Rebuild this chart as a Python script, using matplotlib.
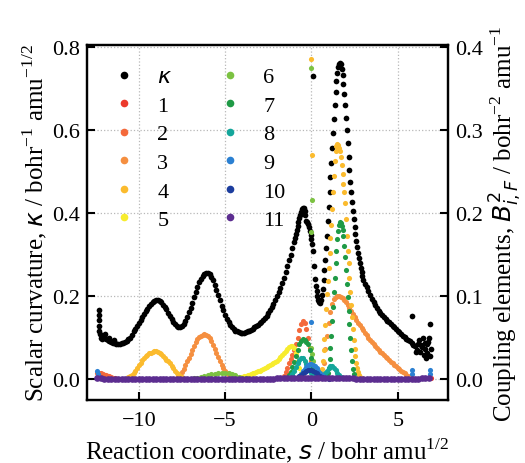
import numpy as np
import matplotlib.pyplot as plt
from matplotlib.lines import Line2D

plt.rcParams['font.family'] = ['Liberation Serif', 'DejaVu Sans']
plt.rcParams['mathtext.fontset'] = 'dejavusans'
plt.rcParams['font.size'] = 16

# Scalar curvature kappa along the reaction coordinate (left axis)
kappa_s_a = np.linspace(-12.2, -1.0, 113)
kappa_a = [
    0.100, 0.104, 0.103, 0.098, 0.095, 0.092, 0.090, 0.088, 0.087, 0.086,
    0.086, 0.086, 0.087, 0.088, 0.090, 0.092, 0.096, 0.100, 0.107, 0.115,
    0.121, 0.128, 0.135, 0.143, 0.151, 0.158, 0.164, 0.170, 0.176, 0.181,
    0.186, 0.189, 0.191, 0.191, 0.189, 0.185, 0.180, 0.174, 0.168, 0.160,
    0.152, 0.145, 0.138, 0.133, 0.129, 0.127, 0.127, 0.129, 0.133, 0.140,
    0.150, 0.161, 0.172, 0.184, 0.197, 0.210, 0.222, 0.233, 0.242, 0.249,
    0.254, 0.256, 0.256, 0.253, 0.247, 0.238, 0.228, 0.216, 0.203, 0.190,
    0.177, 0.166, 0.155, 0.146, 0.138, 0.131, 0.125, 0.121, 0.117, 0.115,
    0.113, 0.112, 0.112, 0.112, 0.113, 0.115, 0.117, 0.119, 0.122, 0.125,
    0.128, 0.131, 0.135, 0.139, 0.143, 0.148, 0.153, 0.159, 0.166, 0.173,
    0.181, 0.190, 0.200, 0.210, 0.220, 0.232, 0.245, 0.258, 0.272, 0.286,
    0.300, 0.315, 0.330,
]
kappa_s_b = np.linspace(-0.95, 3.0, 80)
kappa_b = [
    0.340, 0.350, 0.359, 0.368, 0.378, 0.388, 0.396, 0.403, 0.409, 0.412,
    0.412, 0.406, 0.395, 0.382, 0.378, 0.373, 0.366, 0.358, 0.348, 0.338,
    0.325, 0.308, 0.272, 0.242, 0.225, 0.212, 0.200, 0.192, 0.186, 0.184,
    0.190, 0.203, 0.218, 0.240, 0.262, 0.288, 0.315, 0.345, 0.380, 0.415,
    0.450, 0.487, 0.522, 0.557, 0.592, 0.627, 0.660, 0.692, 0.718, 0.737,
    0.751, 0.759, 0.762, 0.759, 0.748, 0.732, 0.712, 0.688, 0.660, 0.630,
    0.600, 0.568, 0.536, 0.505, 0.476, 0.450, 0.426, 0.405, 0.385, 0.366,
    0.349, 0.333, 0.318, 0.304, 0.291, 0.279, 0.268, 0.258, 0.249, 0.240,
]
kappa_s_c = np.linspace(3.1, 6.9, 39)
kappa_c = [
    0.230, 0.221, 0.212, 0.203, 0.194, 0.186, 0.178, 0.171, 0.165, 0.159,
    0.154, 0.149, 0.145, 0.141, 0.137, 0.133, 0.129, 0.125, 0.121, 0.117,
    0.113, 0.109, 0.105, 0.101, 0.098, 0.094, 0.091, 0.087, 0.083, 0.080,
    0.070, 0.085, 0.065, 0.078, 0.058, 0.088, 0.062, 0.100, 0.072,
]
kappa_s_x = [-12.3, -12.3, -12.3, -12.3, -12.3, -12.25, -12.15, -11.95, -11.7,
             -11.45, 0.09, 5.81, 6.05, 6.25, 6.35, 6.45, 6.55, 6.62, 6.7, 6.78,
             6.84, 6.88]
kappa_x = [0.167, 0.155, 0.142, 0.128, 0.115, 0.110, 0.097, 0.110, 0.100,
           0.095, 0.731, 0.153, 0.065, 0.095, 0.082, 0.100, 0.072, 0.050,
           0.085, 0.090, 0.133, 0.055]

# Coupling elements B^2_{i,F} (right axis)
b1_s = [-12.4, -12.3, -12.2, 6.8, 6.9]
b1 = [0.003, 0.002, 0.001, 0.001, 0.001]

b2_s = list(np.linspace(-12.4, -11.4, 11)) + list(np.linspace(-1.6, 0.2, 19))
b2 = [0.008, 0.0075, 0.007, 0.0065, 0.0055, 0.005, 0.004, 0.0035, 0.0025, 0.002,
      0.0015,
      0.004, 0.009, 0.014, 0.019, 0.024, 0.029, 0.035, 0.0425, 0.05, 0.059,
      0.0665, 0.07, 0.0675, 0.06, 0.05, 0.0375, 0.0225, 0.01, 0.004]

b3_s = list(np.linspace(-7.8, -4.5, 34)) + list(np.linspace(0.5, 5.8, 54))
b3 = [0.0015, 0.003, 0.0055, 0.0085, 0.0125, 0.017, 0.0215, 0.026, 0.0305, 0.0355,
      0.0405, 0.0445, 0.048, 0.0505, 0.0525, 0.0535, 0.054, 0.0535, 0.052, 0.0495,
      0.046, 0.0415, 0.037, 0.032, 0.027, 0.022, 0.0175, 0.0135, 0.01, 0.007,
      0.0045, 0.003, 0.002, 0.001,
      0.002, 0.006, 0.02, 0.036, 0.052, 0.0675, 0.0815, 0.091, 0.0965, 0.099,
      0.1, 0.1, 0.0995, 0.098, 0.0955, 0.0925, 0.089, 0.0855, 0.082, 0.0785,
      0.075, 0.0715, 0.068, 0.065, 0.062, 0.059, 0.056, 0.053, 0.05, 0.0475,
      0.045, 0.0425, 0.04, 0.0375, 0.0355, 0.033, 0.031, 0.029, 0.027, 0.025,
      0.023, 0.021, 0.019, 0.017, 0.0155, 0.0135, 0.012, 0.01, 0.0085, 0.007,
      0.0055, 0.004, 0.003, 0.002]

b4_s = list(np.linspace(-10.6, -7.5, 32)) + list(np.linspace(0.55, 2.95, 49)) + [-0.04, 0.03]
b4 = [0.0025, 0.004, 0.0055, 0.0075, 0.0105, 0.014, 0.017, 0.020, 0.023, 0.0255,
      0.0275, 0.0295, 0.031, 0.032, 0.033, 0.0335, 0.0335, 0.033, 0.032, 0.0305,
      0.0285, 0.026, 0.0235, 0.0215, 0.019, 0.016, 0.013, 0.010, 0.0075, 0.006,
      0.004, 0.0025,
      0.006, 0.0125, 0.0215, 0.035, 0.0485, 0.065, 0.085, 0.1025, 0.118, 0.134,
      0.1525, 0.17, 0.186, 0.205, 0.225, 0.245, 0.2625, 0.275, 0.281, 0.283,
      0.2825, 0.279, 0.275, 0.2675, 0.2575, 0.2475, 0.235, 0.225, 0.2125, 0.1925,
      0.1725, 0.155, 0.14, 0.1225, 0.105, 0.09, 0.075, 0.06, 0.0475, 0.0365,
      0.0275, 0.02, 0.014, 0.009, 0.0055, 0.003, 0.0015, 0.001, 0.0005,
      0.386, 0.2695]

b5_s = np.linspace(-4.4, -0.5, 40)
b5 = [0.001, 0.0015, 0.002, 0.0025, 0.003, 0.0035, 0.004, 0.005, 0.0055, 0.0065,
      0.007, 0.008, 0.009, 0.0095, 0.0105, 0.0115, 0.0125, 0.0135, 0.0145, 0.0155,
      0.017, 0.018, 0.0195, 0.021, 0.0225, 0.0245, 0.0265, 0.029, 0.0315, 0.0345,
      0.037, 0.039, 0.04, 0.04, 0.038, 0.031, 0.0225, 0.014, 0.0075, 0.0035]

b6_s = list(np.linspace(-6.8, -3.8, 16)) + [-0.02, 0.02, 0.0, 0.05, 0.1, 0.0]
b6 = [0.001, 0.002, 0.003, 0.004, 0.005, 0.006, 0.0065, 0.007, 0.0075, 0.0075,
      0.007, 0.006, 0.0045, 0.003, 0.002, 0.001,
      0.375, 0.216, 0.177, 0.03, 0.0225, 0.0375]

b7_s = list(np.linspace(-1.4, 0.3, 18)) + list(np.linspace(0.9, 2.45, 32))
b7 = [0.002, 0.0045, 0.0085, 0.015, 0.021, 0.028, 0.035, 0.042, 0.0465, 0.0485,
      0.0475, 0.045, 0.0425, 0.035, 0.025, 0.015, 0.0075, 0.003,
      0.0025, 0.007, 0.0135, 0.024, 0.0375, 0.0525, 0.07, 0.0875, 0.105, 0.1225,
      0.14, 0.155, 0.169, 0.179, 0.186, 0.189, 0.1885, 0.185, 0.18, 0.1725,
      0.161, 0.1475, 0.1315, 0.115, 0.0985, 0.0825, 0.066, 0.05, 0.035, 0.0225,
      0.0125, 0.006]

b8_s = list(np.linspace(-1.3, 0.3, 17)) + list(np.linspace(0.6, 1.8, 13))
b8 = [0.0015, 0.0035, 0.0065, 0.01, 0.0145, 0.019, 0.023, 0.025, 0.025, 0.0225,
      0.0185, 0.014, 0.01, 0.007, 0.0045, 0.0025, 0.0015,
      0.002, 0.004, 0.007, 0.0105, 0.0135, 0.0155, 0.0155, 0.014, 0.011, 0.0075,
      0.0045, 0.0025, 0.001]

b9_s = list(np.linspace(-0.8, 0.9, 18)) + [0.0, -12.4, -12.35, 5.81, 5.81, 6.84, 6.84]
b9 = [0.002, 0.004, 0.0065, 0.0095, 0.0125, 0.015, 0.017, 0.0185, 0.0185, 0.0175,
      0.0155, 0.013, 0.01, 0.0075, 0.005, 0.003, 0.002, 0.001,
      0.0685, 0.01, 0.006, 0.011, 0.006, 0.011, 0.006]

b10_s = np.linspace(-1.0, 1.0, 21)
b10 = [0.001, 0.002, 0.003, 0.004, 0.0055, 0.007, 0.0085, 0.01, 0.011, 0.0115,
       0.011, 0.01, 0.0085, 0.007, 0.0055, 0.004, 0.003, 0.002, 0.0015, 0.001,
       0.0005]

b11_s = np.linspace(-12.4, 6.8, 97)
b11 = [0.0010, 0.0009, 0.0008, 0.0008, 0.0008, 0.0008, 0.0008, 0.0008, 0.0008, 0.0008,
       0.0008, 0.0008, 0.0008, 0.0008, 0.0008, 0.0008, 0.0008, 0.0008, 0.0008, 0.0008,
       0.0008, 0.0008, 0.0008, 0.0008, 0.0008, 0.0008, 0.0008, 0.0008, 0.0008, 0.0008,
       0.0008, 0.0008, 0.0008, 0.0008, 0.0008, 0.0008, 0.0008, 0.0008, 0.0008, 0.0008,
       0.0008, 0.0008, 0.0008, 0.0008, 0.0008, 0.0008, 0.0008, 0.0008, 0.0008, 0.0008,
       0.0008, 0.0008, 0.0009, 0.0009, 0.0010, 0.0010, 0.0011, 0.0012, 0.0013, 0.0014,
       0.0015, 0.0015, 0.0016, 0.0016, 0.0015, 0.0015, 0.0014, 0.0013, 0.0012, 0.0011,
       0.0010, 0.0010, 0.0009, 0.0009, 0.0009, 0.0008, 0.0008, 0.0008, 0.0008, 0.0008,
       0.0008, 0.0008, 0.0008, 0.0008, 0.0008, 0.0008, 0.0008, 0.0008, 0.0008, 0.0008,
       0.0008, 0.0008, 0.0008, 0.0008, 0.0009, 0.0010, 0.0010]

series = [(b1_s, b1), (b2_s, b2), (b3_s, b3), (b4_s, b4), (b5_s, b5), (b6_s, b6),
          (b7_s, b7), (b8_s, b8), (b9_s, b9), (b10_s, b10), (b11_s, b11)]
colors = ['#ec3a2c', '#f4693b', '#f58f40', '#fbbb2e', '#f7ec2e', '#7cc242',
          '#1f9a46', '#14a69b', '#2b80d2', '#1c3d9e', '#5c2d90']
labels = [str(i) for i in range(1, 12)]

fig = plt.figure(figsize=(5.25, 4.64), dpi=100)
ax = fig.add_axes([0.1657, 0.1358, 0.6873, 0.765])
ax2 = ax.twinx()

ax.grid(True, ls=':', color='#b8b8b8', lw=0.9)
ax.set_axisbelow(True)

for xs, ys in [(kappa_s_a, kappa_a), (kappa_s_b, kappa_b), (kappa_s_c, kappa_c),
               (kappa_s_x, kappa_x)]:
    ax.plot(xs, ys, 'o', color='black', ms=4.1, mec='none')

for (xs, ys), c in zip(series, colors):
    ms = 4.8 if c == colors[-1] else 3.7
    ax2.plot(xs, ys, 'o', color=c, ms=ms, mec='none')

ax.set_xlim(-13.0, 7.9)
ax.set_ylim(-0.05, 0.805)
ax2.set_ylim(-0.025, 0.4025)
ax.set_xticks([-10, -5, 0, 5])
ax.set_yticks([0.0, 0.2, 0.4, 0.6, 0.8])
ax2.set_yticks([0.0, 0.1, 0.2, 0.3, 0.4])
ax.set_yticklabels(['0.0', '0.2', '0.4', '0.6', '0.8'])
ax2.set_yticklabels(['0.0', '0.1', '0.2', '0.3', '0.4'])

for a in (ax, ax2):
    a.tick_params(direction='in', length=6, width=1.5, labelsize=16, pad=5)
    for sp in a.spines.values():
        sp.set_linewidth(1.6)
ax.tick_params(axis='x', pad=8)

ax.set_xlabel('Reaction coordinate, $s$ / bohr amu$^{\\mathregular{1/2}}$', fontsize=18)
ax.set_ylabel('Scalar curvature, $\\kappa$ / bohr$^{\\mathregular{-1}}$ amu$^{\\mathregular{-1/2}}$',
              fontsize=18, labelpad=2)
ax2.set_ylabel('Coupling elements, $B^2_{i,F}$ / bohr$^{\\mathregular{-2}}$ amu$^{\\mathregular{-1}}$',
               fontsize=18, labelpad=4)

handles = [Line2D([], [], ls='none', marker='o', color='black', ms=5.5, mec='none')]
handles += [Line2D([], [], ls='none', marker='o', color=c, ms=5.5, mec='none') for c in colors]
leg = ax2.legend(handles, ['$\\kappa$'] + labels, ncol=2, frameon=False,
                 loc='upper left', bbox_to_anchor=(0.016, 0.995), fontsize=16,
                 handlelength=1.0, handletextpad=1.0, columnspacing=2.1,
                 labelspacing=0.36)

fig.savefig('out.png', dpi=100)
